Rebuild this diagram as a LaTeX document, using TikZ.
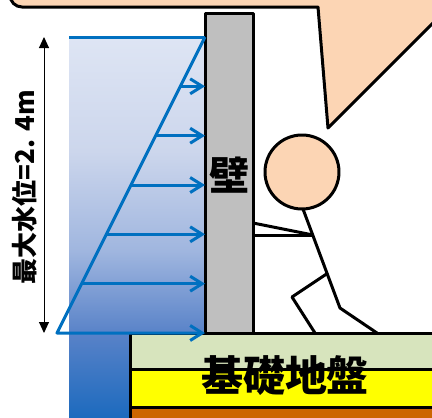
\documentclass[tikz,border=0pt]{standalone}
\usepackage{fontspec}
\newfontfamily\jpfont{Noto Sans CJK JP}
\usetikzlibrary{arrows.meta}

\definecolor{suiBlue}{RGB}{0,112,192}
\definecolor{hadaIro}{RGB}{252,213,180}
\definecolor{kabeGray}{RGB}{191,191,191}
\definecolor{jibanGreen}{RGB}{215,228,189}
\definecolor{jibanYellow}{RGB}{255,255,0}
\definecolor{jibanOrange}{RGB}{204,102,0}
\definecolor{mizuA}{RGB}{28,106,190}
\definecolor{mizuB}{RGB}{88,130,200}
\definecolor{mizuC}{RGB}{160,182,223}
\definecolor{mizuD}{RGB}{204,214,236}
\definecolor{mizuE}{RGB}{222,229,244}

% 水のグラデーション（下→上）
\pgfdeclareverticalshading{suimen}{100bp}{
  color(0bp)=(mizuA); color(25bp)=(mizuA); color(36bp)=(mizuB);
  color(47bp)=(mizuC); color(60bp)=(mizuD); color(75bp)=(mizuE);
  color(100bp)=(mizuE)}

\begin{document}
\begin{tikzpicture}[x=1pt, y=-1pt, line width=3pt, line join=round]

  %% ════ 吹き出し ════
  \draw[fill=hadaIro] (10,-40) [rounded corners=12pt] -- (10,7) [sharp corners] -- (318,7)
        -- (328,128) -- (449,7) -- (470,7) -- (470,-40) -- cycle;

  %% ════ 水 ════
  \shade[shading=suimen] (69,37) -- (205,37) -- (205,333) -- (130,333) -- (130,418) -- (69,418) -- cycle;

  %% ════ 地盤（三層）════
  \draw[fill=jibanOrange] (130,407) rectangle (450,440);
  \draw[fill=jibanYellow] (130,369) rectangle (450,407);
  \draw[fill=jibanGreen]  (130,333) rectangle (450,369);

  %% ════ 壁 ════
  \draw[fill=kabeGray] (205,13) rectangle (253,333);

  %% ════ 水面・水圧分布 ════
  \draw[suiBlue] (69,37) -- (205,37);
  \draw[suiBlue, -{Straight Barb[length=12pt,width=15pt]}] (205,37) -- (57,333) -- (205,333);
  \draw[suiBlue, -{Straight Barb[length=12pt,width=15pt]}] (180.3,86.3) -- (205,86.3);
  \draw[suiBlue, -{Straight Barb[length=12pt,width=15pt]}] (155.7,135.7) -- (205,135.7);
  \draw[suiBlue, -{Straight Barb[length=12pt,width=15pt]}] (131.0,185.0) -- (205,185.0);
  \draw[suiBlue, -{Straight Barb[length=12pt,width=15pt]}] (106.3,234.3) -- (205,234.3);
  \draw[suiBlue, -{Straight Barb[length=12pt,width=15pt]}] (81.7,283.7) -- (205,283.7);

  %% ════ 人 ════
  \draw[fill=hadaIro] (302,172) circle[radius=37pt];
  \draw (303,209) -- (340,308) -- (377,333);
  \draw (328,273) -- (292,297) -- (315,333);
  \draw (253,223) -- (313,235);
  \draw (253,235) -- (313,235);

  %% ════ 寸法線 ════
  \coordinate (suiiTop) at (44,37);
  \coordinate (suiiBot) at (44,333);
  \draw[line width=1pt, {Triangle[length=11pt,width=10pt]}-{Triangle[length=11pt,width=10pt]}] (suiiTop) -- (suiiBot);

  %% ════ 文字 ════
  \node[anchor=center,inner sep=0pt,font=\jpfont\bfseries\fontsize{40}{40}\selectfont] (kabe) at (229,175) {壁};
  \node[anchor=center,inner sep=0pt,font=\jpfont\bfseries\fontsize{42}{42}\selectfont] (jiban) at (285,376) {基礎地盤};
  \node[anchor=center,inner sep=0pt,rotate=90,font=\jpfont\bfseries\fontsize{26}{26}\selectfont] (suii) at (25,187) {最大水位=2. 4m};

  % 画面サイズを固定
  \pgfresetboundingbox
  \path[use as bounding box] (0,0) rectangle (432,418);
\end{tikzpicture}
\end{document}
